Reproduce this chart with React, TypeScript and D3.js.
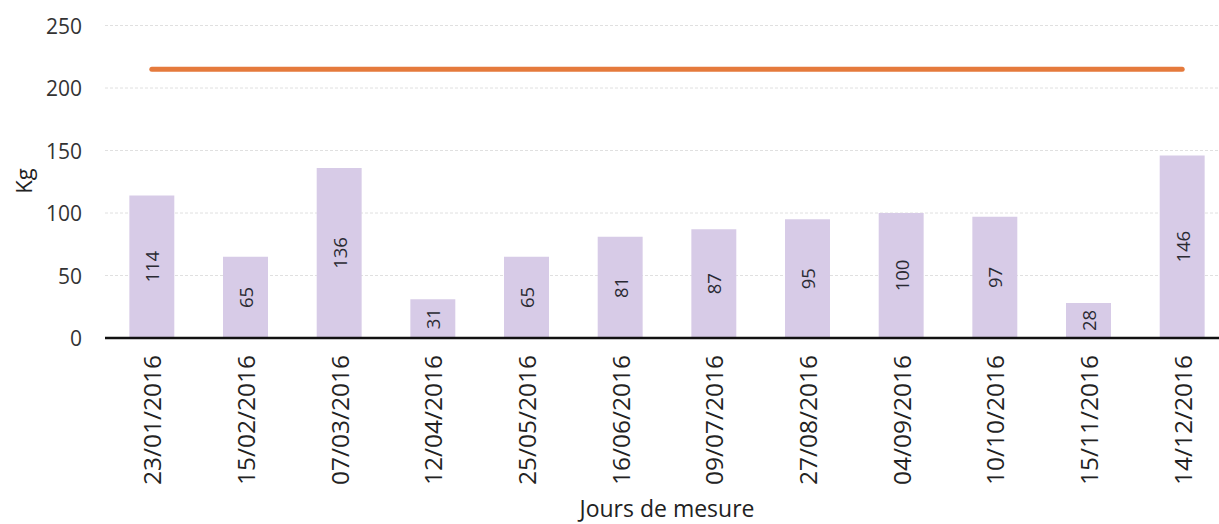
import React from "react";
import * as d3 from "d3";

const categories = [
  "23/01/2016", "15/02/2016", "07/03/2016", "12/04/2016", "25/05/2016", "16/06/2016",
  "09/07/2016", "27/08/2016", "04/09/2016", "10/10/2016", "15/11/2016", "14/12/2016",
];
const values = [114, 65, 136, 31, 65, 81, 87, 95, 100, 97, 28, 146];
const limitValues = [215, 215, 215, 215, 215, 215, 215, 215, 215, 215, 215, 215];
const yTicks = [0, 50, 100, 150, 200, 250];

const W = 1219;
const H = 524;
const FONT = "'Open Sans', 'Noto Sans', sans-serif";

export default function App() {
  const x = d3
    .scaleBand<string>()
    .domain(categories)
    .range([105, 1229])
    .paddingInner(0.52)
    .paddingOuter(0.26);
  const y = d3.scaleLinear().domain([0, 250]).range([338, 25.5]);

  const line = d3
    .line<number>()
    .x((_, i) => (x(categories[i]) as number) + x.bandwidth() / 2)
    .y((d) => y(d));

  return (
    <svg
      width={W}
      height={H}
      style={{ position: "absolute", left: 0, top: 0, background: "#fff" }}
      fontFamily={FONT}
    >
      {/* gridlines */}
      {yTicks
        .filter((t) => t > 0)
        .map((t) => (
          <line
            key={t}
            x1={105}
            x2={W}
            y1={y(t)}
            y2={y(t)}
            stroke="#e0e0e0"
            strokeWidth={1}
            strokeDasharray="3 2"
          />
        ))}
      {/* y tick labels */}
      {yTicks.map((t) => (
        <text
          key={t}
          x={82}
          y={y(t)}
          textAnchor="end"
          dominantBaseline="central"
          fontSize={21}
          fill="#333"
        >
          {t}
        </text>
      ))}
      {/* bars */}
      {values.map((v, i) => (
        <rect
          key={i}
          x={x(categories[i])}
          y={y(v)}
          width={x.bandwidth()}
          height={y(0) - y(v)}
          fill="#d7cbe7"
        />
      ))}
      {/* bar labels */}
      {values.map((v, i) => {
        const cx = (x(categories[i]) as number) + x.bandwidth() / 2;
        const cy = (y(v) + y(0)) / 2;
        return (
          <text
            key={i}
            transform={`translate(${cx},${cy}) rotate(-90)`}
            textAnchor="middle"
            dominantBaseline="central"
            fontSize={18.5}
            fill="#2a2a33"
          >
            {v}
          </text>
        );
      })}
      {/* axis line */}
      <line x1={105} x2={W} y1={y(0)} y2={y(0)} stroke="#111" strokeWidth={2.5} />
      {/* limit line */}
      <path
        d={line(limitValues) || ""}
        fill="none"
        stroke="#e57a3c"
        strokeWidth={5}
        strokeLinecap="round"
      />
      {/* x labels */}
      {categories.map((c) => {
        const cx = (x(c) as number) + x.bandwidth() / 2;
        return (
          <text
            key={c}
            transform={`translate(${cx},355) rotate(-90)`}
            textAnchor="end"
            dominantBaseline="central"
            fontSize={24.5}
            fill="#222"
          >
            {c}
          </text>
        );
      })}
      {/* axis titles */}
      <text
        transform={`translate(23,181) rotate(-90)`}
        textAnchor="middle"
        dominantBaseline="central"
        fontSize={22}
        fill="#222"
      >
        Kg
      </text>
      <text x={667} y={517} textAnchor="middle" fontSize={23} fill="#222">
        Jours de mesure
      </text>
    </svg>
  );
}
